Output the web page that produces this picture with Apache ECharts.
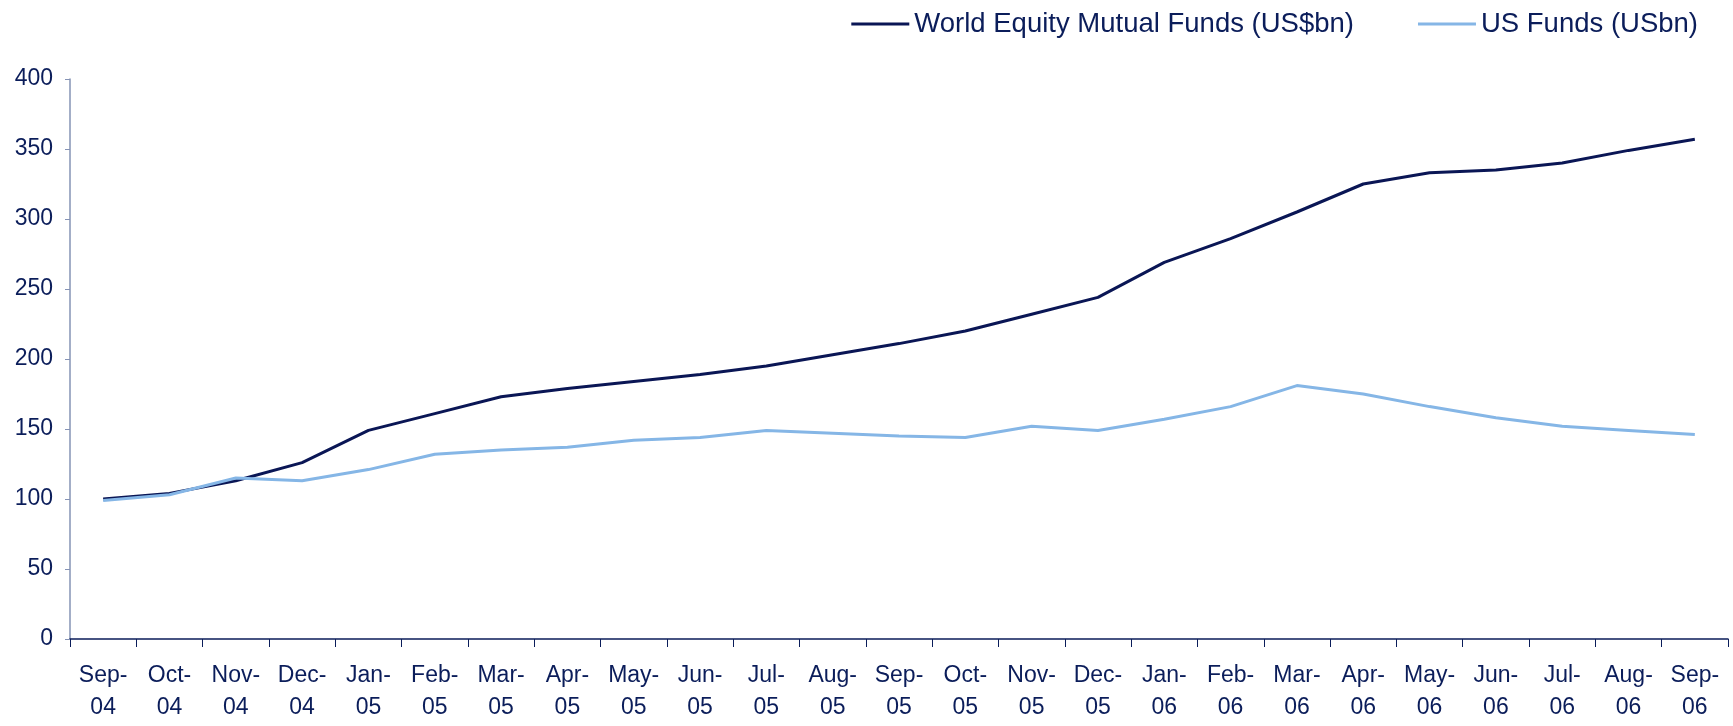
<!DOCTYPE html>
<html>
<head>
<meta charset="utf-8">
<script src="https://cdn.jsdelivr.net/npm/echarts@6/dist/echarts.min.js"></script>
<style>
  html, body { margin: 0; padding: 0; background: #fff; }
  #chart { width: 1733px; height: 726px; }
</style>
</head>
<body>
<div id="chart"></div>
<script>
"use strict";
// months, Sep-04 .. Sep-06
var categories = ['Sep-04','Oct-04','Nov-04','Dec-04','Jan-05','Feb-05','Mar-05','Apr-05','May-05',
  'Jun-05','Jul-05','Aug-05','Sep-05','Oct-05','Nov-05','Dec-05','Jan-06','Feb-06','Mar-06',
  'Apr-06','May-06','Jun-06','Jul-06','Aug-06','Sep-06'];
var worldFunds = [100,104,113,126,149,161,173,179,184,189,195,203,211,220,232,244,269,286,305,325,333,335,340,349,357];
var usFunds = [99,103,115,113,121,132,135,137,142,144,149,147,145,144,152,149,157,166,181,175,166,158,152,149,146];
var yTicks = [0,50,100,150,200,250,300,350,400];

var textColor = '#0b1d5a';
var fontFamily = '"Liberation Sans", Arial, sans-serif';

var myChart = echarts.init(document.getElementById('chart'));
myChart.setOption({
  animation: false,
  backgroundColor: '#ffffff',
  legend: {
    top: 5,
    right: 30,
    icon: 'rect',
    itemWidth: 58,
    itemHeight: 3,
    itemGap: 64,
    textStyle: { color: textColor, fontSize: 27.5, fontFamily: fontFamily },
    data: ['World Equity Mutual Funds (US$bn)', 'US Funds (USbn)']
  },
  grid: { left: 70, right: 5, top: 79, bottom: 87 },
  xAxis: {
    type: 'category',
    data: categories,
    boundaryGap: true,
    axisLine: { lineStyle: { color: '#0b1d5a', width: 1.5 } },
    axisTick: { show: true, length: 8, lineStyle: { color: '#0b1d5a' } },
    axisLabel: {
      interval: 0,
      margin: 21,
      color: textColor,
      fontSize: 23,
      lineHeight: 32,
      fontFamily: fontFamily,
      formatter: function (v) { return v.replace('-', '-\n'); }
    }
  },
  yAxis: {
    type: 'value',
    min: yTicks[0],
    max: yTicks[yTicks.length - 1],
    interval: 50,
    splitLine: { show: false },
    axisLine: { show: true, lineStyle: { color: '#8593b5', width: 1.5 } },
    axisTick: { show: true, length: 5, lineStyle: { color: '#8593b5' } },
    axisLabel: { color: textColor, fontSize: 23, margin: 17, fontFamily: fontFamily }
  },
  series: [{
    name: 'World Equity Mutual Funds (US$bn)',
    type: 'line',
    data: worldFunds,
    symbol: 'none',
    color: '#0a1655',
    lineStyle: { width: 3, color: '#0a1655' }
  }, {
    name: 'US Funds (USbn)',
    type: 'line',
    data: usFunds,
    symbol: 'none',
    color: '#85b6e6',
    lineStyle: { width: 3, color: '#85b6e6' }
  }]
});
</script>
</body>
</html>
